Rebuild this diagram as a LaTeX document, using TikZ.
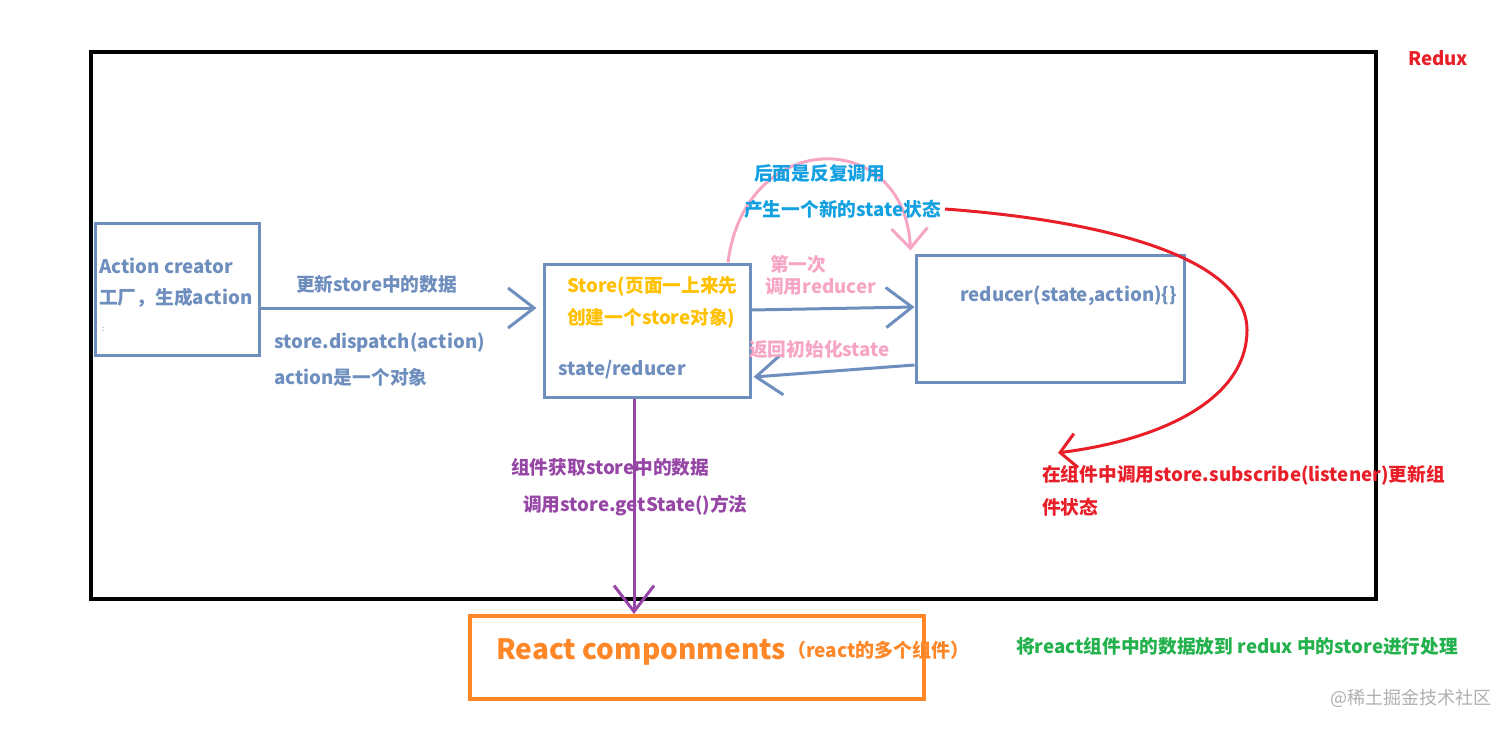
\documentclass[tikz,border=0pt]{standalone}
\usepackage{fontspec}
\setmainfont{Noto Sans CJK SC}
\usetikzlibrary{arrows.meta}
\definecolor{steel}{RGB}{110,142,190}
\definecolor{ylw}{RGB}{255,192,0}
\definecolor{pnk}{RGB}{246,166,196}
\definecolor{cyn}{RGB}{18,160,225}
\definecolor{rd}{RGB}{232,30,40}
\definecolor{prp}{RGB}{150,70,165}
\definecolor{org}{RGB}{255,135,40}
\definecolor{grn}{RGB}{34,177,76}
\definecolor{wm}{RGB}{175,175,175}
\tikzset{
  box/.style={draw=steel,line width=3pt,minimum width=#1,inner sep=0pt},
  txt/.style={anchor=west,inner sep=0pt,font=\fontsize{18.7}{22}\selectfont\bfseries},
  barb/.style={-{Straight Barb[length=26pt,width=40pt,line width=3pt]}},
}
\begin{document}
\begin{tikzpicture}[x=1pt,y=-1pt]
\useasboundingbox (0,0) rectangle (1512,730);
% outer frame
\node[draw=black,line width=4pt,minimum width=1285pt,minimum height=547pt,inner sep=0pt] (outer) at (733.5,325.5) {};
\node[txt,text=rd] (redux) at (1408,58) {Redux};
% boxes
\node[box=164pt,minimum height=132pt] (act) at (177,289) {};
\node[box=206pt,minimum height=133pt] (store) at (647,330.5) {};
\node[box=268pt,minimum height=127pt] (red) at (1050,318.5) {};
\node[draw=org,line width=4pt,minimum width=454pt,minimum height=83pt,inner sep=0pt] (react) at (697,657.5) {};
% action creator text
\node[txt,text=steel] (t1) at (99,266) {Action creator};
\node[txt,text=steel] (t2) at (99,298) {工厂，生成action};
\node[txt,text=steel,font=\fontsize{8}{9}\selectfont] (t3) at (102,329) {:};
% arrow action -> store
\draw[steel,line width=3pt,barb,shorten >=6pt] ([yshift=-19pt]act.east) -- ([yshift=22.5pt]store.west);
\node[txt,text=steel] (l1) at (296,284) {更新store中的数据};
\node[txt,text=steel] (l2) at (274,343) {store.dispatch(action)};
\node[txt,text=steel] (l3) at (274,377) {action是一个对象};
% store text
\node[txt,text=ylw] (s1) at (567,286) {Store(页面一上来先};
\node[txt,text=ylw] (s2) at (567,318) {创建一个store对象)};
\node[txt,text=steel] (s3) at (558,370) {state/reducer};
% reducer text
\node[txt,text=steel] (r1) at (960,296) {reducer(state,action)\{\}};
% store <-> reducer arrows
\draw[steel,line width=3pt,barb] ([yshift=20.5pt]store.east) -- ([yshift=11.5pt]red.west);
\draw[steel,line width=3pt,barb] ([yshift=-46.5pt]red.west) -- ([yshift=-46.5pt,xshift=2pt]store.east);
\node[txt,text=pnk] (p1) at (770,264) {第一次};
\node[txt,text=pnk] (p2) at (765,287) {调用reducer};
\node[txt,text=pnk] (p3) at (749,349) {返回初始化state};
% pink loop
\draw[pnk,line width=3pt,-{Straight Barb[length=20pt,width=36pt,line width=3pt]}] ([xshift=81pt]store.north) .. controls (745,127) and (905,127) .. ([xshift=-4pt,yshift=3pt]red.north west);
\node[txt,text=cyn] (c1) at (754,173) {后面是反复调用};
\node[txt,text=cyn] (c2) at (744,209) {产生一个新的state状态};
% red curve
\node[txt,text=rd] (sub1) at (1042,475) {在组件中调用store.subscribe(listener)更新组};
\node[txt,text=rd] (sub2) at (1042,507) {件状态};
\draw[rd,line width=3pt,-{Straight Barb[length=16pt,width=34pt,line width=3pt]}] ([xshift=4pt]c2.east) .. controls (1120,222) and (1247,262) .. (1247,330) .. controls (1247,400) and (1160,440) .. ([xshift=16pt,yshift=12pt]sub1.north west);
% purple
\draw[prp,line width=3pt,barb] ([xshift=-13pt]store.south) -- ([xshift=-63pt]react.north);
\node[txt,text=prp] (g1) at (511,467) {组件获取store中的数据};
\node[txt,text=prp] (g2) at (523,506) {调用store.getState()方法};
% react text
\node[txt,text=org,font=\fontsize{28}{32}\selectfont\bfseries] (rc) at (496,652) {React componments};
\node[txt,text=org,font=\fontsize{19}{22}\selectfont\bfseries] (rc2) at (787,650) {（react的多个组件）};
% green
\node[txt,text=grn] (gr) at (1016,646) {将react组件中的数据放到 redux 中的store进行处理};
% watermark
\node[anchor=west,inner sep=0pt,text=wm,font=\fontsize{18}{20}\selectfont] (wmk) at (1330,698) {@稀土掘金技术社区};
\end{tikzpicture}
\end{document}
